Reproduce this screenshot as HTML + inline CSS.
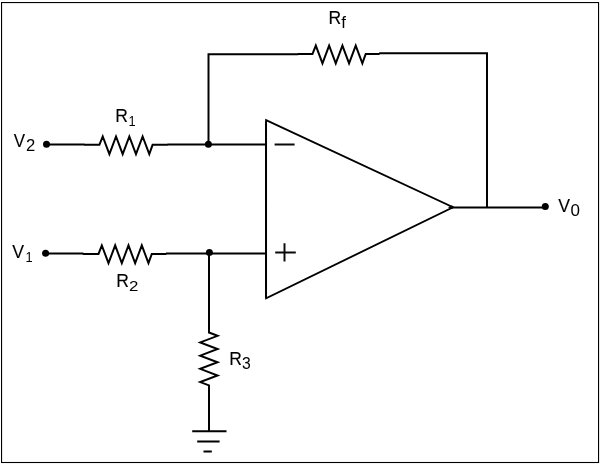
<!DOCTYPE html>
<html>
<head>
<meta charset="utf-8">
<title>Op-amp subtractor circuit</title>
<style>
  html, body { margin: 0; padding: 0; background: #ffffff; }
  body { width: 600px; height: 464px; overflow: hidden; font-family: "Liberation Sans", sans-serif; }
  svg { display: block; will-change: transform; }
  .w { fill: none; stroke: #000; stroke-width: 1.97; stroke-linejoin: miter; stroke-linecap: butt; stroke-miterlimit: 10; }
  .d { fill: #000; }
  text { font-family: "Liberation Sans", sans-serif; fill: #000; stroke: #000; stroke-width: 0.12px; }
  .L { font-size: 17.5px; }
  .s { font-size: 15.5px; stroke: none; }
  .s1 { font-size: 15.3px; stroke: none; }
</style>
</head>
<body>
<svg width="600" height="464" viewBox="0 0 600 464">
  <rect x="0" y="0" width="600" height="464" fill="#ffffff"/>
  <!-- outer frame -->
  <rect x="1.55" y="2.55" width="597" height="459.95" fill="none" stroke="#000" stroke-width="1.1"/>

  <!-- V2 input branch with R1 -->
  <path class="w" d="M46.5 144.45 H84.6 M84 144.85 H99.4 L102.73 136.50 L109.38 154.15 L116.03 136.50 L122.68 154.15 L129.33 136.50 L135.98 154.15 L142.63 136.50 L149.28 154.15 L152.60 144.85 H167.8 M167.4 144.45 H266"/>
  <!-- V1 input branch with R2 -->
  <path class="w" d="M46 253.4 H83.4 M82.8 253.95 H98.5 L101.83 245.40 L108.49 263.15 L115.16 245.40 L121.82 263.15 L128.48 245.40 L135.14 263.15 L141.81 245.40 L148.47 263.15 L151.80 253.95 H166.4 M166 253.4 H266"/>
  <!-- feedback loop with Rf -->
  <path class="w" d="M208.5 144.45 V54.3 H298.3 M297.8 53.9 H312.5 L315.82 45.55 L322.47 63.35 L329.12 45.55 L335.77 63.35 L342.42 45.55 L349.07 63.35 L355.72 45.55 L362.37 63.35 L365.70 53.90 H379.6 M379.2 53.25 H487 V207.4"/>
  <!-- R3 to ground -->
  <path class="w" d="M209 253.4 V332.5 L217.60 335.81 L200.20 342.42 L217.60 349.03 L200.20 355.64 L217.60 362.26 L200.20 368.87 L217.60 375.48 L200.20 382.09 L209.00 385.40 V431.3"/>
  <!-- ground symbol -->
  <path class="w" d="M192.2 431.3 H226.5 M197.2 441.5 H219.6 M203.5 451.5 H211.8"/>
  <!-- op-amp triangle -->
  <path class="w" style="stroke-width:1.85" d="M266.1 120.1 L453 207.25 L266.1 298.35 Z"/>
  <path class="d" d="M447.9 207.3 L452.3 205.3 L452.3 209.3 Z"/>
  <path class="w" style="stroke-width:2" d="M266 121.5 V297.5"/>
  <!-- output -->
  <path class="w" d="M451 207.4 H545.3"/>
  <!-- minus / plus -->
  <path d="M274.6 144.55 H294.6 M275.2 252.5 H295.8 M284.5 243.3 V261.6" fill="none" stroke="#0a0a0a" stroke-width="1.95"/>

  <!-- terminals and junctions -->
  <circle class="d" cx="46.5" cy="144.3" r="3.5"/>
  <circle class="d" cx="45.6" cy="253.3" r="3.5"/>
  <circle class="d" cx="208.4" cy="144.35" r="3.5"/>
  <circle class="d" cx="209.4" cy="252.4" r="3.5"/>
  <circle class="d" cx="545.3" cy="206.5" r="3.5"/>

  <!-- labels -->
  <g class="t">
  <text class="L" transform="translate(13.7 146.5) scale(0.97 1)">V</text><text class="s" style="font-size:16px" transform="translate(25.9 150.9) scale(1.04 1)">2</text>
  <text class="L" transform="translate(12.25 257.5) scale(1.01 1)">V</text><text class="s1" transform="translate(25.4 261.7) scale(0.84 1)">1</text>
  <text class="L" transform="translate(558.25 211.8) scale(1.01 1)">V</text><text class="s" style="font-size:16.2px" transform="translate(570.5 216) scale(1.05 1)">0</text>
  <text class="L" transform="translate(115.2 122.1)">R</text><text class="s1" transform="translate(128.5 125.9) scale(0.84 1)">1</text>
  <text class="L" transform="translate(116.3 287.3)">R</text><text class="s" transform="translate(128.9 291.2) scale(1.09 1)">2</text>
  <text class="L" transform="translate(328.4 23.9)">R</text><text class="s" style="font-size:16.5px" transform="translate(341.2 27.8) scale(1.02 1)">f</text>
  <text class="L" transform="translate(229.2 364.6)">R</text><text class="s" style="font-size:16.4px" transform="translate(242.1 368.9) scale(0.96 1)">3</text>
  </g>
</svg>
</body>
</html>
